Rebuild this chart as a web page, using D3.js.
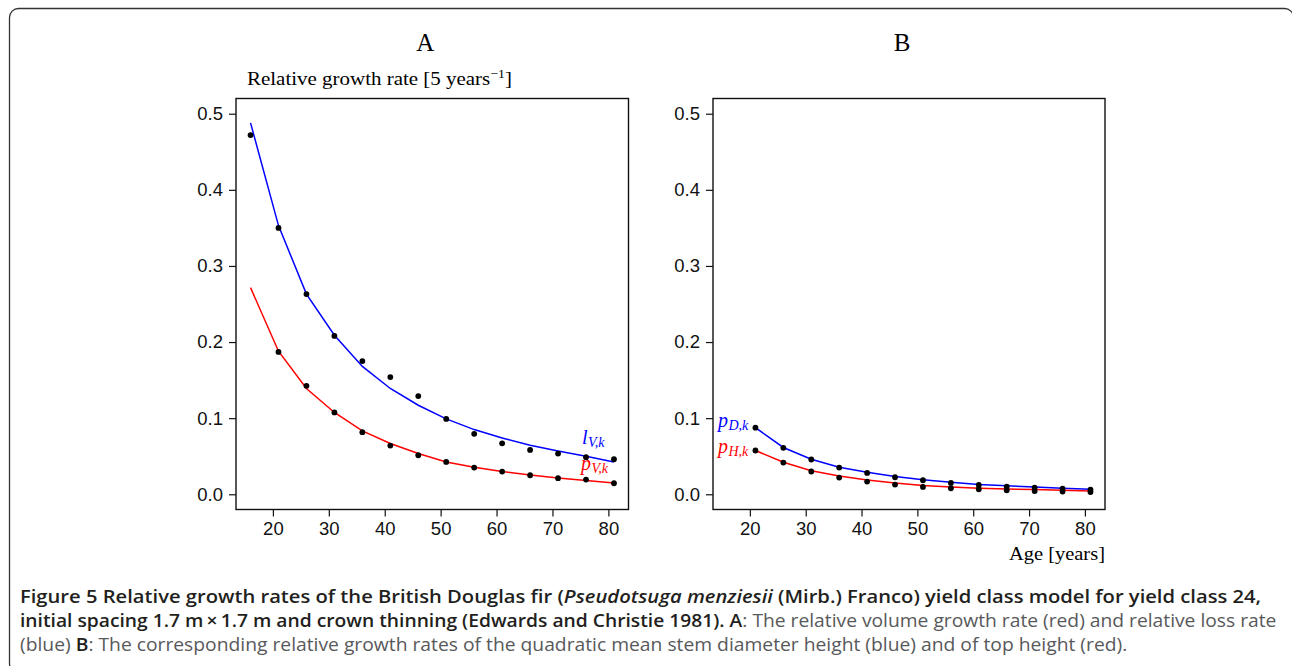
<!DOCTYPE html>
<html>
<head>
<meta charset="utf-8">
<script src="https://cdn.jsdelivr.net/npm/d3@7"></script>
<style>
  html, body { margin: 0; padding: 0; background: #fff; }
  svg { display: block; }
</style>
</head>
<body>
<svg id="fig" width="1292" height="666"></svg>
<script>
// Ages (years) at which the yield table is tabulated
const agesA = [16, 21, 26, 31, 36, 41, 46, 51, 56, 61, 66, 71, 76, 81];
const agesB = [21, 26, 31, 36, 41, 46, 51, 56, 61, 66, 71, 76, 81];

// Panel A: relative loss rate l_{V,k} (blue) – model curve and table values
const lossModel = [0.488, 0.353, 0.263, 0.209, 0.168, 0.139, 0.117, 0.099, 0.085, 0.074, 0.0645, 0.057, 0.050, 0.0425];
const lossObs   = [0.472, 0.350, 0.263, 0.208, 0.175, 0.154, 0.129, 0.099, 0.0794, 0.067, 0.0583, 0.0535, 0.0487, 0.046];

// Panel A: relative volume growth rate p_{V,k} (red)
const volModel  = [0.2715, 0.188, 0.139, 0.1075, 0.0833, 0.0667, 0.0535, 0.0425, 0.0355, 0.030, 0.0254, 0.0215, 0.018, 0.0149];
const volAges   = [21, 26, 31, 36, 41, 46, 51, 56, 61, 66, 71, 76, 81];
const volObs    = [0.187, 0.1425, 0.1075, 0.0816, 0.064, 0.0513, 0.0425, 0.0351, 0.0298, 0.025, 0.0211, 0.0193, 0.0145];

// Panel B: quadratic mean diameter p_{D,k} (blue) and top height p_{H,k} (red)
const diamModel = [0.0875, 0.0615, 0.046, 0.0355, 0.029, 0.0235, 0.019, 0.0158, 0.013, 0.0112, 0.0095, 0.008, 0.0066];
const diamObs   = [0.0875, 0.061, 0.0457, 0.0351, 0.028, 0.0224, 0.0184, 0.0149, 0.0122, 0.0101, 0.0088, 0.0075, 0.0062];
const htModel   = [0.0575, 0.042, 0.031, 0.024, 0.0188, 0.0148, 0.0114, 0.0095, 0.0079, 0.007, 0.0062, 0.0052, 0.0043];
const htObs     = [0.0575, 0.0417, 0.0299, 0.022, 0.0167, 0.0128, 0.0096, 0.0079, 0.0066, 0.0053, 0.0043, 0.0036, 0.003];

const xTicks = [20, 30, 40, 50, 60, 70, 80];
const yTicks = [0.0, 0.1, 0.2, 0.3, 0.4, 0.5];

const svg = d3.select("#fig");
const BLUE = "#0000ff", RED = "#ff0000";
const serif = "'Liberation Serif', 'DejaVu Serif', serif";
const sans = "'Liberation Sans', Arial, sans-serif";

// Squeeze or stretch a text group horizontally so it spans the given width
function fitWidth(g, textSel, x0, yBase, width) {
  const natural = textSel.node().getComputedTextLength();
  g.attr("transform", `translate(${x0},${yBase}) scale(${width / natural},1)`);
}

// Outer rounded frame
svg.append("rect")
  .attr("x", 9.5).attr("y", 8.5).attr("width", 1284).attr("height", 664)
  .attr("rx", 9).attr("fill", "none").attr("stroke", "#333").attr("stroke-width", 1.3);

const plotTop = 98.5, plotBottom = 509.5;
const y = d3.scaleLinear().domain([-0.02, 0.52]).range([plotBottom, plotTop]);

function panel(left, right, title) {
  const x = d3.scaleLinear().domain([13.4, 83.6]).range([left, right]);
  const g = svg.append("g");

  const yAxis = g.append("g").attr("transform", `translate(${left},0)`)
    .call(d3.axisLeft(y).tickValues(yTicks).tickFormat(d3.format(".1f")).tickSize(7).tickPadding(6));
  yAxis.select(".domain").remove();

  const xAxis = g.append("g").attr("transform", `translate(0,${plotBottom})`)
    .call(d3.axisBottom(x).tickValues(xTicks).tickSize(7).tickPadding(5));
  xAxis.select(".domain").remove();

  [yAxis, xAxis].forEach(a => {
    a.selectAll("text").attr("font-family", sans).attr("font-size", 18.5).attr("fill", "#111");
    a.selectAll("line").attr("stroke", "#111").attr("stroke-width", 1.2);
  });

  g.append("rect")
    .attr("x", left).attr("y", plotTop).attr("width", right - left).attr("height", plotBottom - plotTop)
    .attr("fill", "none").attr("stroke", "#111").attr("stroke-width", 1.4);

  g.append("text").attr("x", (left + right) / 2 - 7).attr("y", 51)
    .attr("text-anchor", "middle").attr("font-family", serif).attr("font-size", 25)
    .attr("fill", "#000").text(title);
  return { g, x };
}

function curve(p, ages, vals, color) {
  const line = d3.line().x((d, i) => p.x(ages[i])).y(d => y(d));
  p.g.append("path").datum(vals).attr("d", line)
    .attr("fill", "none").attr("stroke", color).attr("stroke-width", 1.5);
}
function dots(p, ages, vals) {
  p.g.selectAll(null).data(vals).enter().append("circle")
    .attr("cx", (d, i) => p.x(ages[i])).attr("cy", d => y(d))
    .attr("r", 2.9).attr("fill", "#000");
}
function mathLabel(xPos, yBase, main, sub, color) {
  const t = svg.append("text").attr("x", xPos).attr("y", yBase)
    .attr("font-family", serif).attr("font-style", "italic").attr("fill", color);
  t.append("tspan").attr("font-size", 20).text(main);
  t.append("tspan").attr("font-size", 14).attr("dx", 0.5).attr("dy", 3).text(sub);
}

// Panel A
const A = panel(236, 628.5, "A");
curve(A, agesA, lossModel, BLUE);
curve(A, agesA, volModel, RED);
dots(A, agesA, lossObs);
dots(A, volAges, volObs);
mathLabel(582, 444, "l", "V,k", BLUE);
mathLabel(581, 470, "p", "V,k", RED);

// Y-axis title over panel A
const yTitleG = svg.append("g");
const yTitle = yTitleG.append("text").attr("x", 0).attr("y", 0)
  .attr("font-family", serif).attr("font-size", 19).attr("fill", "#000");
yTitle.append("tspan").text("Relative growth rate [5 years");
yTitle.append("tspan").attr("font-size", 12.5).attr("dy", -7).text("\u22121");
yTitle.append("tspan").attr("dy", 7).text("]");
fitWidth(yTitleG, yTitle, 247, 85, 265);

// Panel B
const B = panel(713, 1105, "B");
curve(B, agesB, diamModel, BLUE);
curve(B, agesB, htModel, RED);
dots(B, agesB, diamObs);
dots(B, agesB, htObs);
mathLabel(718, 427, "p", "D,k", BLUE);
mathLabel(718, 453, "p", "H,k", RED);

const ageG = svg.append("g");
const ageT = ageG.append("text").attr("x", 0).attr("y", 0)
  .attr("font-family", serif).attr("font-size", 19).attr("fill", "#000").text("Age [years]");
fitWidth(ageG, ageT, 1009, 560, 96);

// Caption
const capFont = "'Open Sans', 'Noto Sans', sans-serif";
const DARK = "#231f20", GREY = "#58595b";
const captionLines = [
  { yPos: 603, w: 1242, parts: [
    ["Figure 5 Relative growth rates of the British Douglas fir (", "bold", "normal", DARK],
    ["Pseudotsuga menziesii", "bold", "italic", DARK],
    [" (Mirb.) Franco) yield class model for yield class 24,", "bold", "normal", DARK]] },
  { yPos: 627, w: 1257, parts: [
    ["initial spacing 1.7 m\u2009\u00d7\u20091.7 m and crown thinning (Edwards and Christie 1981). A", "bold", "normal", DARK],
    [": The relative volume growth rate (red) and relative loss rate", "normal", "normal", GREY]] },
  { yPos: 651, w: 1108, parts: [
    ["(blue) ", "normal", "normal", GREY],
    ["B", "bold", "normal", DARK],
    [": The corresponding relative growth rates of the quadratic mean stem diameter height (blue) and of top height (red).", "normal", "normal", GREY]] }
];
captionLines.forEach(l => {
  const g = svg.append("g");
  const t = g.append("text").attr("x", 0).attr("y", 0)
    .attr("font-family", capFont).attr("font-size", 18);
  l.parts.forEach(p => {
    t.append("tspan").attr("font-weight", p[1] === "bold" ? 600 : 400)
      .attr("font-style", p[2]).attr("fill", p[3]).text(p[0]);
  });
  fitWidth(g, t, 20, l.yPos, l.w);
});
</script>
</body>
</html>
